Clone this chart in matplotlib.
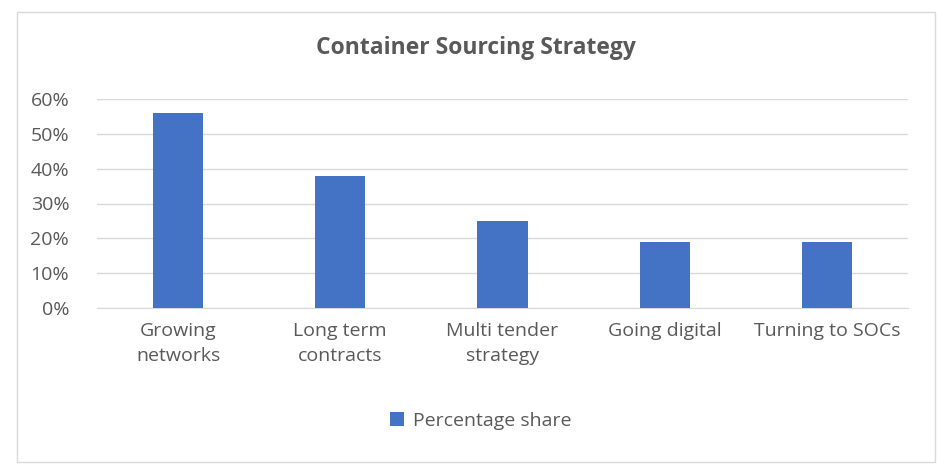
import matplotlib
matplotlib.use("Agg")
import matplotlib.pyplot as plt
from matplotlib.patches import Rectangle

categories = ["Growing\nnetworks", "Long term\ncontracts", "Multi tender\nstrategy", "Going digital", "Turning to SOCs"]
values = [56, 38, 25, 19, 19]
yticks = [0, 10, 20, 30, 40, 50, 60]
ytick_labels = ["0%", "10%", "20%", "30%", "40%", "50%", "60%"]
series_name = "Percentage share"

plt.rcParams["font.family"] = "Open Sans"
fig = plt.figure(figsize=(9.51, 4.74), dpi=100)
fig.patches.append(Rectangle((17/951, 12/474), 918/951, 450/474, transform=fig.transFigure,
                             fill=False, edgecolor="#d9d9d9", linewidth=1))
ax = fig.add_axes([97/951, 1-308/474, 811/951, 209/474])
x = range(len(categories))
ax.bar(x, values, width=0.31, color="#4472C4", label=series_name, zorder=3)
ax.set_xlim(-0.5, len(categories)-0.5)
ax.set_ylim(0, 60)
ax.set_yticks(yticks)
ax.set_yticklabels(ytick_labels)
ax.set_xticks(list(x))
ax.set_xticklabels(categories, linespacing=1.5)
ax.grid(axis="y", color="#d9d9d9", linewidth=1, zorder=0)
for s in ["top", "right", "left"]:
    ax.spines[s].set_visible(False)
ax.spines["bottom"].set_color("#d9d9d9")
ax.tick_params(axis="both", length=0, labelsize=14, colors="#595959", pad=10)
ax.tick_params(axis="y", pad=20)
fig.text(476/951, 1-48/474, "Container Sourcing Strategy", ha="center", va="center",
         fontsize=16.5, fontweight="bold", color="#595959")
fig.legend(loc="center", bbox_to_anchor=(481/951, 1-421/474), frameon=False, fontsize=14,
           handlelength=0.7, handleheight=0.7, handletextpad=0.5, labelcolor="#595959")
fig.savefig("out.png", dpi=100)
